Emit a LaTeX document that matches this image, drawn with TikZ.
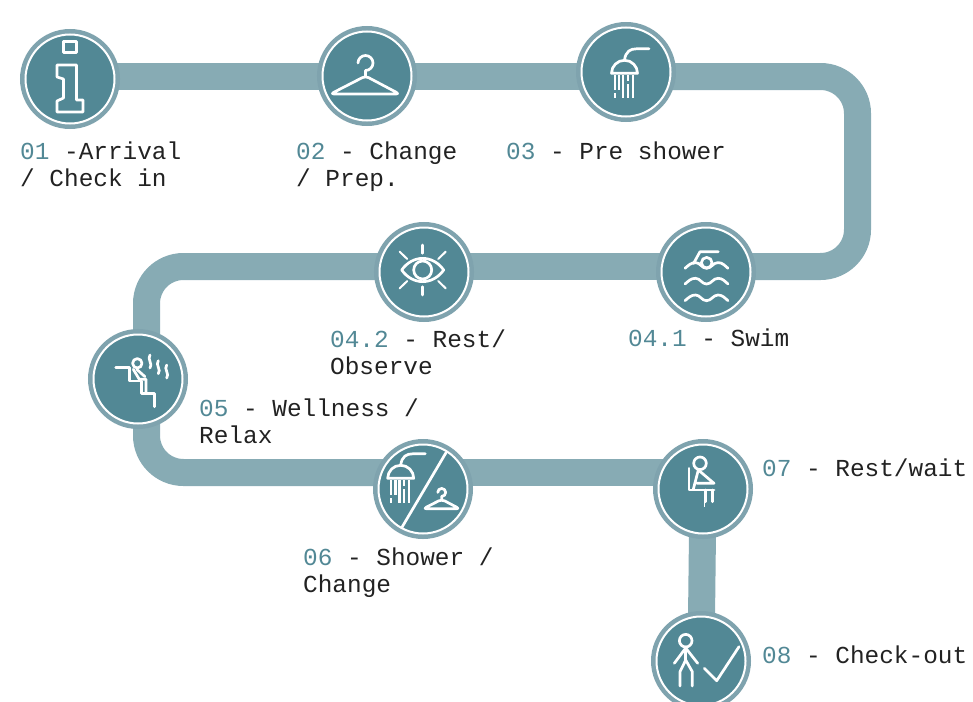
\documentclass[tikz,border=0pt]{standalone}
\usepackage{fontspec}
\setmonofont{Liberation Mono}
\usetikzlibrary{backgrounds}
\definecolor{disc}{HTML}{528895}
\definecolor{ring}{HTML}{7FA3AE}
\definecolor{pipe}{HTML}{87ABB4}
\definecolor{ink}{HTML}{222222}
\newcommand{\stepnum}[1]{\strut\textcolor{disc}{#1}}
\tikzset{
  stopdisc/.style={circle, minimum size=89pt, inner sep=0pt, fill=disc, draw=white,
    line width=2pt, preaction={draw=ring, line width=11pt}},
  pipeline/.style={draw=pipe, line width=27pt},
  icon/.style={draw=white, line width=2.7pt, line join=round, line cap=round},
  steplabel/.style={anchor=north west, inner sep=0pt, align=left, text=ink,
    font=\ttfamily\fontsize{24.4}{27}\selectfont},
  hanger/.pic={
    \draw[icon] (-7.5,13) arc[start angle=180, end angle=-90, radius=7.5] -- (0,0);
    \draw[icon, rounded corners=3.5pt] (0,0) -- (-35,-18) -- (34,-18) -- cycle;
  },
  showerhead/.pic={
    \draw[icon] (-13,0) arc[start angle=180, end angle=0, radius=13] -- cycle;
    \draw[icon] (0,13) .. controls (1,22) and (6,24.5) .. (12,24.5) -- (24.5,24.5);
    \foreach \dx/\dy/\dz in {-9.5/-1.7/-16.7, -9.5/-20/-25, -5.2/-1.7/-16.7, -1.2/-1.7/-25,
      3.2/-1.7/-8, 3.2/-11/-25, 8.2/-1.7/-25}
      \draw[icon, line width=2.1pt, line cap=butt] (\dx,\dy) -- (\dx,\dz);
  }
}
\begin{document}
\begin{tikzpicture}[x=1pt, y=1pt]
  \useasboundingbox (0,0) rectangle (973,-701);

  % stops
  \node[stopdisc] (arrival) at (70,-79) {};
  \node[stopdisc] (change) at (367,-76) {};
  \node[stopdisc] (preshower) at (626,-72) {};
  \node[stopdisc] (swim) at (706,-272) {};
  \node[stopdisc] (observe) at (424,-272) {};
  \node[stopdisc] (wellness) at (138,-379) {};
  \node[stopdisc] (showerchange) at (423,-489) {};
  \node[stopdisc] (restwait) at (703,-489) {};
  \node[stopdisc] (checkout) at (701,-661) {};

  \coordinate (bendne) at (857.5,-76.5);
  \coordinate (bendse) at (857.5,-266.5);
  \coordinate (bendnw) at (146.5,-266.5);
  \coordinate (bendsw) at (146.5,-472.5);

  % the route, behind the stops
  \begin{scope}[on background layer]
    \draw[pipeline] (arrival |- bendne) -- (change |- bendne);
    \draw[pipeline] (change |- bendne) -- (preshower |- bendne);
    \draw[pipeline, rounded corners=37pt] (preshower |- bendne) -- (bendne) -- (bendse) -- (swim |- bendse);
    \draw[pipeline] (swim |- bendse) -- (observe |- bendse);
    \draw[pipeline, rounded corners=37pt] (observe |- bendse) -- (bendnw) -- (bendnw |- wellness);
    \draw[pipeline, rounded corners=37pt] (bendnw |- wellness) -- (bendsw) -- (showerchange |- bendsw);
    \draw[pipeline] (showerchange |- bendsw) -- (restwait |- bendsw);
    \draw[pipeline] (restwait) -- (checkout);
  \end{scope}

  % labels
  \node[steplabel] (arrivaltext) at (20,-140) {\stepnum{01} -Arrival\\/ Check in};
  \node[steplabel] (changetext) at (296,-140) {\stepnum{02} - Change\\/ Prep.};
  \node[steplabel] (preshowertext) at (506,-140) {\stepnum{03} - Pre shower};
  \node[steplabel] (swimtext) at (628,-327) {\stepnum{04.1} - Swim};
  \node[steplabel] (observetext) at (330,-328) {\stepnum{04.2} - Rest/\\Observe};
  \node[steplabel] (wellnesstext) at (199,-397) {\stepnum{05} - Wellness /\\Relax};
  \node[steplabel] (showerchangetext) at (303,-546) {\stepnum{06} - Shower /\\Change};
  \node[steplabel] (restwaittext) at (762,-457) {\stepnum{07} - Rest/wait};
  \node[steplabel] (checkouttext) at (762,-644) {\stepnum{08} - Check-out};

  % info
  \begin{scope}[shift={(70,-79)}]
    \draw[icon] (-6.5,37.5) rectangle (6.5,26.5);
    \draw[icon] (-13,14) -- (-13,2) -- (-6.5,0) -- (-6.5,-19) -- (-13,-22) -- (-13,-33)
      -- (13,-33) -- (13,-21) -- (6.5,-21) -- (6.5,14) -- cycle;
  \end{scope}

  \pic at (365.5,-76) {hanger};
  \pic at (624.5,-73.3) {showerhead};

  % swim
  \begin{scope}[shift={(706.5,-272)}]
    \draw[icon] (0.2,9.3) circle (5.3);
    \draw[icon] (11.8,20.3) -- (-6.5,20.3) -- (-13,8.5);
    \foreach \wy in {3.7,-12,-28.7}
      \draw[icon] (-21.5,\wy) to[out=40,in=180] (-11,\wy+5.7) to[out=0,in=180] (0,\wy)
        to[out=0,in=180] (11.5,\wy+5.7) to[out=0,in=140] (21.5,\wy);
  \end{scope}

  % eye
  \begin{scope}[shift={(422.7,-270)}]
    \draw[icon] (-21,0) .. controls (-10,15.5) and (10,15.5) .. (21,0)
      .. controls (10,-15.5) and (-10,-15.5) .. cycle;
    \draw[icon] (0,0) circle (9);
    \draw[icon] (0,25) -- (0,16.7);
    \draw[icon] (0,-16.7) -- (0,-25);
    \draw[icon, line width=2pt] (-23,18.3) -- (-15.5,11);
    \draw[icon, line width=2pt] (23,18.3) -- (15.5,11);
    \draw[icon, line width=2pt] (-23,-18.3) -- (-15.5,-11);
    \draw[icon, line width=2pt] (23,-18.3) -- (15.5,-11);
  \end{scope}

  % wellness
  \begin{scope}[shift={(138,-379)}]
    \draw[icon] (-22.3,11.3) -- (-8.7,11.3) -- (-8.7,-2) -- (3.7,-2) -- (3.7,-14.3)
      -- (16.3,-14.3) -- (16.3,-27.7);
    \draw[icon] (-0.7,15.7) circle (4.7);
    \draw[icon] (-4.7,9.7) -- (1.3,-0.3) -- (8,-0.3) -- (8,-13.7);
    \draw[icon] (-1.3,9.7) -- (7,2.3);
    \foreach \sx/\sy in {12/24, 20.3/18.3, 28.7/14}
      \draw[icon] (\sx,\sy) to[out=-130,in=50] ++(0,-13);
  \end{scope}

  % shower and change
  \pic at (400.7,-478.3) {showerhead};
  \pic[scale=.53] at (441.7,-499.3) {hanger};
  \draw[icon] (446,-452.7) -- (401.7,-527.7);

  % seated
  \begin{scope}[shift={(703,-489)}]
    \draw[icon] (-3,25.7) circle (6.3);
    \draw[icon] (-14,20.7) -- (-14,-1) -- (11,-1);
    \draw[icon] (2.7,-1) -- (2.7,-12.7);
    \draw[icon] (9.7,-1) -- (9.7,-12.7);
    \draw[icon] (-9.7,-0.3) -- (-4.7,19) -- (11,5.7) -- (-6,5.7);
    \draw[draw=white, line width=.5pt] (1.3,-1) -- (1.3,-18);
  \end{scope}

  % walking out
  \begin{scope}[shift={(701,-661)}]
    \draw[icon] (-15.3,20.3) circle (6.3);
    \draw[icon] (-15.3,14) -- (-15.3,1);
    \draw[icon] (-26.7,-2.3) -- (-15.3,13) -- (-3.3,-2.3);
    \draw[icon] (-21,-25) -- (-21,-10.7) -- (-15.3,1) -- (-8.7,-10.7) -- (-8.7,-25);
    \draw[icon] (3.3,-7.3) -- (15.7,-19.7) -- (38,14.3);
  \end{scope}
\end{tikzpicture}
\end{document}
